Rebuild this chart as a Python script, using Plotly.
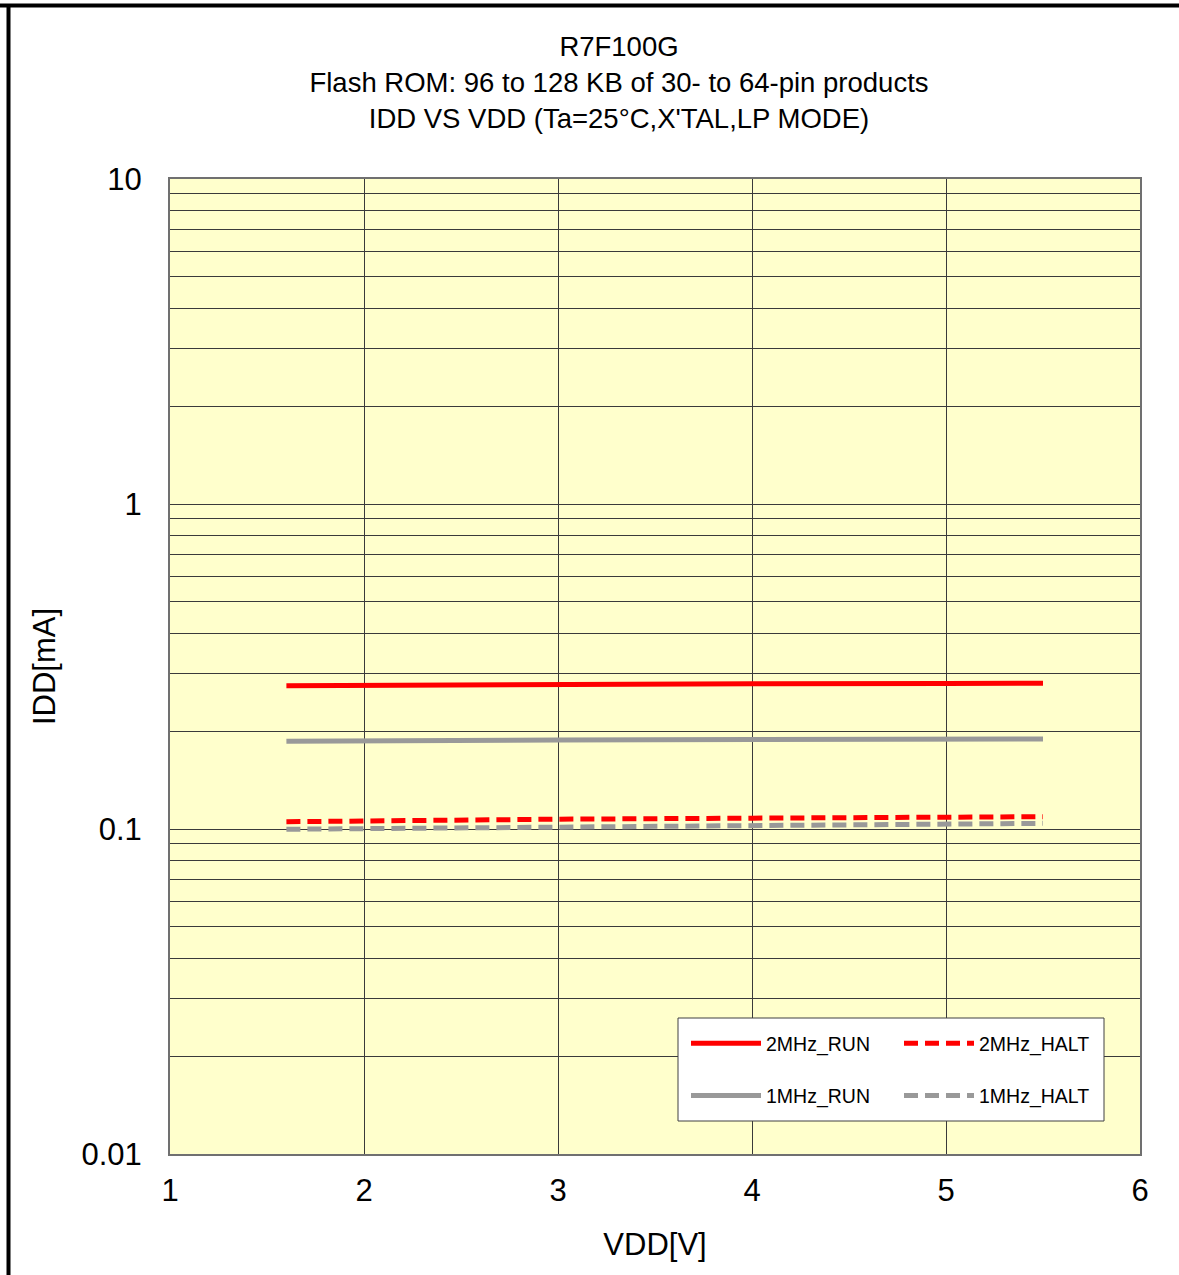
import plotly.graph_objects as go

vdd = [1.6, 2.0, 3.0, 4.0, 5.0, 5.5]
run_2mhz = [0.276, 0.277, 0.279, 0.280, 0.2805, 0.281]
halt_2mhz = [0.1053, 0.106, 0.1072, 0.108, 0.1085, 0.1091]
run_1mhz = [0.1862, 0.187, 0.188, 0.1885, 0.189, 0.1892]
halt_1mhz = [0.0998, 0.1003, 0.1015, 0.1025, 0.1032, 0.1041]

x_ticks = [1, 2, 3, 4, 5, 6]
y_major = [0.01, 0.1, 1, 10]
y_major_text = ["0.01", "0.1", "1", "10"]

RED = "#FF0000"
GRAY = "#999999"
FONT = "Liberation Sans, Arial, sans-serif"

fig = go.Figure()
fig.add_trace(go.Scatter(x=vdd, y=run_2mhz, mode="lines", name="2MHz_RUN",
                         line=dict(color=RED, width=5), legend="legend", legendgroup="a"))
fig.add_trace(go.Scatter(x=vdd, y=run_1mhz, mode="lines", name="1MHz_RUN",
                         line=dict(color=GRAY, width=5), legend="legend", legendgroup="b"))
fig.add_trace(go.Scatter(x=vdd, y=halt_2mhz, mode="lines", name="2MHz_HALT",
                         line=dict(color=RED, width=5, dash="14px,7px"), legend="legend2", legendgroup="c"))
fig.add_trace(go.Scatter(x=vdd, y=halt_1mhz, mode="lines", name="1MHz_HALT",
                         line=dict(color=GRAY, width=5, dash="14px,7px"), legend="legend2", legendgroup="d"))

y_minor = []
for dec in [0.01, 0.1, 1]:
    for m in range(2, 10):
        y_minor.append(dec * m)

L, R, T, B = 170, 39, 179, 121
W, H = 1179, 1275
pw, ph = W - L - R, H - T - B

def px_x(x):
    return (x - L) / pw

def px_y(y):
    return (H - B - y) / ph

fig.update_layout(
    width=W, height=H,
    margin=dict(l=L, r=R, t=T, b=B),
    paper_bgcolor="white",
    plot_bgcolor="#FFFFCC",
    font=dict(family=FONT, color="black"),
    title=dict(text="R7F100G<br>Flash ROM: 96 to 128 KB of 30- to 64-pin products<br>IDD VS VDD (Ta=25°C,X'TAL,LP MODE)",
               x=619 / W, xanchor="center", y=1 - 56 / H, yanchor="middle",
               font=dict(size=27.5, family=FONT)),
    xaxis=dict(range=[1, 6], tickvals=x_ticks, ticktext=[str(v) for v in x_ticks],
               showgrid=True, gridcolor="#3a3a3a", gridwidth=1,
               showline=True, linecolor="#707070", linewidth=2, mirror=True,
               ticks="", tickfont=dict(size=31), zeroline=False, ticklabelstandoff=8,
               title=dict(text="VDD[V]", font=dict(size=31), standoff=26)),
    yaxis=dict(type="log", range=[-2, 1], tickvals=y_major, ticktext=y_major_text,
               showgrid=True, gridcolor="#3a3a3a", gridwidth=1,
               minor=dict(tickvals=y_minor, showgrid=True, gridcolor="#3a3a3a", gridwidth=1, ticks=""),
               showline=True, linecolor="#707070", linewidth=2, mirror=True,
               ticks="", tickfont=dict(size=31), zeroline=False, ticklabelstandoff=20,
               title=dict(text="IDD[mA]", font=dict(size=31), standoff=17)),
    legend=dict(x=px_x(686), y=px_y(1024), xanchor="left", yanchor="top",
                bgcolor="rgba(0,0,0,0)", font=dict(size=19.5), tracegroupgap=24,
                itemwidth=70),
    legend2=dict(x=px_x(899), y=px_y(1024), xanchor="left", yanchor="top",
                 bgcolor="rgba(0,0,0,0)", font=dict(size=19.5), tracegroupgap=24,
                 itemwidth=70),
    shapes=[
        dict(type="rect", xref="paper", yref="paper",
             x0=px_x(678), x1=px_x(1104), y0=px_y(1121), y1=px_y(1018),
             fillcolor="white", line=dict(color="#404040", width=1), layer="above"),
        dict(type="line", xref="paper", yref="paper",
             x0=px_x(0), x1=px_x(W), y0=px_y(5.5), y1=px_y(5.5),
             line=dict(color="black", width=4)),
        dict(type="line", xref="paper", yref="paper",
             x0=px_x(8.5), x1=px_x(8.5), y0=px_y(4), y1=px_y(H + 5),
             line=dict(color="black", width=4)),
    ],
)

fig.write_html("out.html", config={"displayModeBar": False},
               post_script="document.body.style.margin='0';document.body.style.overflow='hidden';")
